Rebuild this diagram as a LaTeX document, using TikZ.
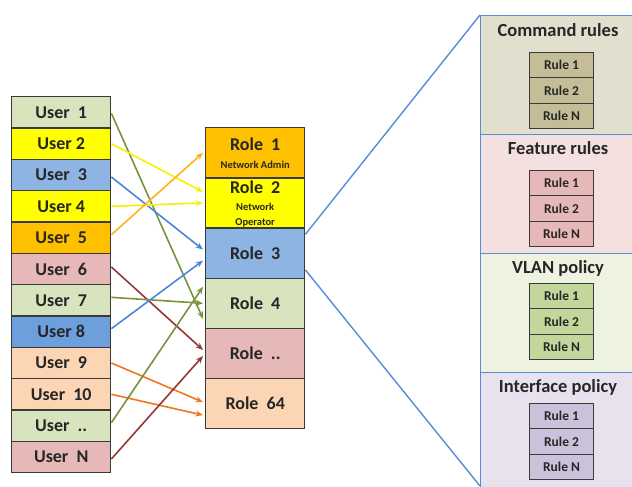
\documentclass[tikz,border=0pt]{standalone}
\usepackage{fontspec}
\setmainfont{Carlito}
\usetikzlibrary{arrows.meta}

% cell fills
\definecolor{cgreen}{HTML}{D7E4BD}
\definecolor{cyellow}{HTML}{FFFF00}
\definecolor{cblue}{HTML}{8EB4E3}
\definecolor{cblued}{HTML}{6C9FDC}
\definecolor{corange}{HTML}{FFC000}
\definecolor{cpink}{HTML}{E6B9B8}
\definecolor{cpeach}{HTML}{FCD5B5}
\definecolor{cellline}{HTML}{3A3A3A}
\definecolor{txt}{HTML}{262626}
% connector colours
\definecolor{agreen}{HTML}{77933C}
\definecolor{ayellow}{HTML}{F8F000}
\definecolor{ablue}{HTML}{4A86DC}
\definecolor{aorange}{HTML}{FFB21E}
\definecolor{ared}{HTML}{953735}
\definecolor{adorange}{HTML}{F2761F}
\definecolor{zoomblue}{HTML}{558ED5}
% rule panels
\definecolor{tanbg}{HTML}{E3DFCF}
\definecolor{tanrow}{HTML}{C4BD97}
\definecolor{pinkbg}{HTML}{F4E0DF}
\definecolor{pinkrow}{HTML}{E6B9B8}
\definecolor{greenbg}{HTML}{EDF2E1}
\definecolor{greenrow}{HTML}{C3D69B}
\definecolor{lilacbg}{HTML}{E7E2EE}
\definecolor{lilacrow}{HTML}{CCC1DA}

\tikzset{
  cellbase/.style={draw=cellline, line width=1.4pt, text=txt, inner sep=0pt,
    anchor=north west, minimum width=99pt},
  ucell/.style={cellbase, minimum height=31.33pt,
    font=\bfseries\fontsize{18}{18}\selectfont},
  rcell/.style={cellbase, minimum height=50.17pt,
    font=\bfseries\fontsize{18}{18}\selectfont, align=center},
  panel/.style={draw=zoomblue, line width=1.4pt, anchor=north west,
    minimum width=170pt, inner sep=0pt},
  ptitle/.style={text=txt, font=\bfseries\fontsize{18.5}{18.5}\selectfont, inner sep=0pt},
  rulecell/.style={draw=cellline, line width=1.1pt, text=txt, inner sep=0pt,
    anchor=north west, minimum width=64pt, minimum height=25.33pt,
    font=\bfseries\fontsize{13.5}{14}\selectfont},
  link/.style={line width=1.6pt, -{Stealth[length=7.5pt,width=6pt]}},
  zoomline/.style={draw=zoomblue, line width=1.4pt},
}

\begin{document}
\begin{tikzpicture}[x=1pt,y=-1pt]
\useasboundingbox (0,0) rectangle (632,487);
\clip (0,0) rectangle (632,487);

% ---- rule panels on the right ----
\foreach \i/\y/\h/\bg in {1/15/119/tanbg, 2/134/119/pinkbg,
    3/253/119/greenbg, 4/372/130/lilacbg}{
  \node[panel, fill=\bg, minimum height=\h pt] (p\i) at (480,\y) {};
}
\node[ptitle] (t1) at (558,30) {Command rules};
\node[ptitle] (t2) at (558,148) {Feature rules};
\node[ptitle] (t3) at (558,268) {VLAN policy};
\node[ptitle] (t4) at (558,387) {Interface policy};

\foreach \i/\y/\row in {1/52/tanrow, 2/170/pinkrow, 3/283/greenrow, 4/403/lilacrow}{
  \node[rulecell, fill=\row] (q\i a) at (529,\y) {Rule 1};
  \node[rulecell, fill=\row] (q\i b) at (529,\y+25.33) {Rule 2};
  \node[rulecell, fill=\row] (q\i c) at (529,\y+50.67) {Rule N};
}
\coordinate (zbot) at (480,486);

% ---- users ----
\foreach \i/\txt/\col in {
    1/User~~1/cgreen, 2/User 2/cyellow, 3/User~~3/cblue, 4/User 4/cyellow,
    5/User~~5/corange, 6/User~~6/cpink, 7/User~~7/cgreen, 8/User 8/cblued,
    9/User~~9/cpeach, 10/User~~10/cpeach, 11/User~~../cgreen, 12/User~~N/cpink}{
  \node[ucell, fill=\col] (u\i) at (11,{96+(\i-1)*31.33}) {\txt};
}

% ---- roles ----
\node[rcell, fill=corange] (r1) at (205,127)
  {Role~~1\\[0pt]{\fontsize{10.5}{11}\selectfont Network Admin}};
% the strut pushes the three lines down so the last one meets the next cell
\node[rcell, fill=cyellow] (r2) at (205,177.17)
  {\rule{0pt}{15pt}Role~~2\\[-1pt]{\fontsize{10.5}{15}\selectfont Network}\\[-2.5pt]
   {\fontsize{10.5}{11}\selectfont Operator}};
\node[rcell, fill=cblue] (r3) at (205,227.33) {Role~~3};
\node[rcell, fill=cgreen] (r4) at (205,277.5) {Role~~4};
\node[rcell, fill=cpink] (r5) at (205,327.67) {Role~~..};
\node[rcell, fill=cpeach] (r6) at (205,377.83) {Role~~64};

% ---- zoom lines from Role 3 to the panels ----
\draw[zoomline] ([yshift=-7pt]r3.north east) -- (p1.north west);
\draw[zoomline] ([yshift=9pt]r3.south east) -- (zbot);

% ---- user to role links ----
\draw[link, agreen] ([yshift=-1pt]u1.east) -- ([yshift=-15.5pt,xshift=-2pt]r4.west);
\draw[link, ayellow] (u2.east) -- ([yshift=11pt,xshift=-2pt]r2.west);
\draw[link, ablue] ([yshift=-2pt]u3.east) -- ([yshift=3.5pt,xshift=-2pt]r3.west);
\draw[link, ayellow] (u4.east) -- ([xshift=-2pt]r2.west);
\draw[link, aorange] ([yshift=3pt]u5.east) -- ([xshift=-2pt]r1.west);
\draw[link, ared] ([yshift=2pt]u6.east) -- ([yshift=3.5pt,xshift=-2pt]r5.west);
\draw[link, agreen] ([yshift=3pt]u7.east) -- ([xshift=-2pt]r4.west);
\draw[link, ablue] ([yshift=3pt]u8.east) -- ([yshift=-7.5pt,xshift=-2pt]r3.west);
\draw[link, adorange] (u9.east) -- ([yshift=1.5pt,xshift=-2pt]r6.west);
\draw[link, adorange] (u10.east) -- ([yshift=-11.5pt,xshift=-2pt]r6.west);
\draw[link, agreen] ([yshift=3pt]u11.east) -- ([yshift=16.5pt,xshift=-2pt]r4.west);
\draw[link, ared] ([yshift=-2pt]u12.east) -- ([yshift=-2.5pt,xshift=-2pt]r5.west);
\end{tikzpicture}
\end{document}
